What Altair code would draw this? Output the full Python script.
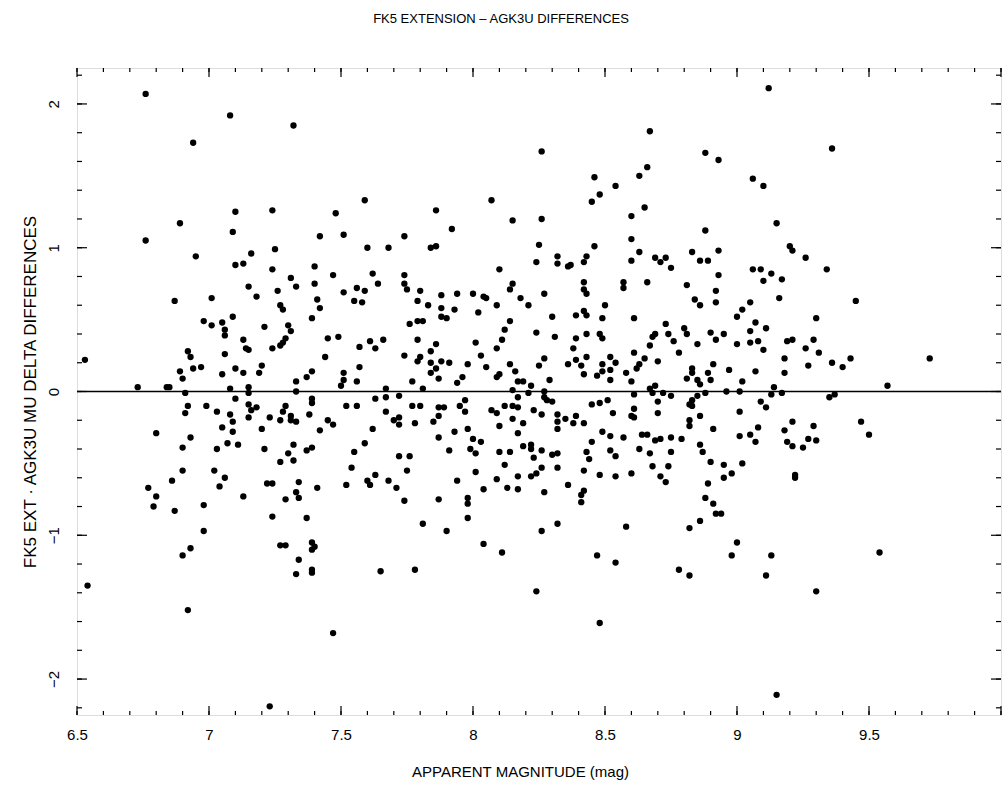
import altair as alt
import pandas as pd

# ---------------- data: (apparent magnitude, delta difference) ----------------
upper_left = [
    (6.76, 2.07), (7.08, 1.92), (6.94, 1.73), (7.10, 1.25), (6.89, 1.17), (7.09, 1.11),
    (6.76, 1.05), (6.95, 0.94), (7.16, 0.96), (7.10, 0.88), (7.13, 0.89), (7.15, 0.73),
    (7.18, 0.66), (6.87, 0.63), (7.01, 0.65), (6.98, 0.49), (7.01, 0.46), (7.05, 0.48),
    (7.09, 0.52), (7.06, 0.43), (7.06, 0.39), (7.13, 0.36), (7.14, 0.30), (7.15, 0.29),
    (6.92, 0.28), (6.93, 0.24), (7.06, 0.26), (6.89, 0.14), (6.94, 0.16), (6.97, 0.17),
    (7.10, 0.16), (7.13, 0.13), (7.05, 0.12), (6.90, 0.09), (6.53, 0.22),
]
lower_left = [
    (6.73, 0.03), (6.84, 0.03), (6.85, 0.03), (7.08, 0.02), (7.15, 0.03), (7.15, -0.01),
    (6.91, -0.01), (7.10, -0.05), (6.92, -0.10), (6.99, -0.10), (7.15, -0.09), (6.91, -0.15),
    (7.03, -0.14), (7.08, -0.16), (7.16, -0.13), (7.15, -0.18), (7.09, -0.21), (7.05, -0.25),
    (7.09, -0.28), (6.80, -0.29), (6.93, -0.32), (6.90, -0.39), (7.07, -0.36), (7.11, -0.37),
    (7.03, -0.40), (6.90, -0.55), (7.02, -0.55), (6.86, -0.62), (7.06, -0.60), (7.04, -0.66),
    (6.77, -0.67), (6.80, -0.73), (7.13, -0.73), (6.79, -0.80), (6.87, -0.83), (6.98, -0.79),
    (6.98, -0.97), (6.93, -1.09), (6.90, -1.14), (6.54, -1.35), (6.92, -1.52),
]
upper_mid_left = [
    (7.32, 1.85), (7.59, 1.33), (7.24, 1.26), (7.48, 1.24), (7.86, 1.26), (7.42, 1.08),
    (7.51, 1.09), (7.74, 1.08), (7.25, 0.99), (7.60, 1.00), (7.68, 1.00), (7.84, 1.00),
    (7.86, 1.01), (7.24, 0.85), (7.40, 0.87), (7.31, 0.79), (7.33, 0.73), (7.40, 0.75),
    (7.47, 0.81), (7.62, 0.82), (7.64, 0.75), (7.74, 0.81), (7.74, 0.75), (7.75, 0.71),
    (7.56, 0.72), (7.59, 0.70), (7.51, 0.69), (7.55, 0.63), (7.58, 0.62), (7.26, 0.70),
    (7.41, 0.64), (7.42, 0.58), (7.27, 0.60), (7.28, 0.57), (7.80, 0.70), (7.79, 0.63),
    (7.83, 0.60), (7.88, 0.67), (7.88, 0.58), (7.88, 0.52), (7.39, 0.51), (7.21, 0.45),
    (7.30, 0.46), (7.31, 0.42), (7.76, 0.47), (7.79, 0.49), (7.81, 0.49), (7.45, 0.37),
    (7.49, 0.38), (7.24, 0.30), (7.27, 0.32), (7.28, 0.34), (7.29, 0.37), (7.57, 0.31),
    (7.61, 0.35), (7.63, 0.30), (7.66, 0.36), (7.79, 0.36), (7.86, 0.33), (7.84, 0.28),
    (7.44, 0.24), (7.74, 0.25), (7.80, 0.24), (7.79, 0.21), (7.20, 0.18), (7.19, 0.13),
    (7.88, 0.21), (7.84, 0.20), (7.84, 0.13), (7.86, 0.16), (7.87, 0.09), (7.57, 0.17),
    (7.39, 0.14), (7.37, 0.10), (7.33, 0.07), (7.51, 0.13), (7.51, 0.08), (7.56, 0.07),
    (7.77, 0.07), (7.50, 0.04),
]
lower_mid_left = [
    (7.33, 0.00), (7.67, 0.02), (7.81, 0.02), (7.39, -0.05), (7.39, -0.08), (7.63, -0.05),
    (7.67, -0.04), (7.72, -0.03), (7.52, -0.10), (7.56, -0.10), (7.18, -0.11), (7.29, -0.10),
    (7.28, -0.14), (7.23, -0.18), (7.31, -0.17), (7.31, -0.20), (7.33, -0.21), (7.27, -0.20),
    (7.38, -0.16), (7.45, -0.20), (7.47, -0.23), (7.42, -0.27), (7.20, -0.26), (7.62, -0.26),
    (7.67, -0.14), (7.70, -0.20), (7.72, -0.18), (7.72, -0.23), (7.77, -0.10), (7.80, -0.10),
    (7.78, -0.22), (7.85, -0.21), (7.87, -0.17), (7.87, -0.11), (7.87, -0.32), (7.21, -0.40),
    (7.32, -0.37), (7.30, -0.43), (7.37, -0.41), (7.39, -0.39), (7.27, -0.49), (7.32, -0.48),
    (7.55, -0.42), (7.59, -0.36), (7.54, -0.53), (7.72, -0.45), (7.76, -0.45), (7.75, -0.55),
    (7.22, -0.64), (7.24, -0.64), (7.34, -0.63), (7.41, -0.67), (7.52, -0.65), (7.60, -0.62),
    (7.61, -0.65), (7.63, -0.58), (7.68, -0.62), (7.71, -0.67), (7.33, -0.70), (7.34, -0.74),
    (7.29, -0.75), (7.74, -0.76), (7.87, -0.75), (7.24, -0.87), (7.37, -0.88), (7.81, -0.92),
    (7.27, -1.07), (7.29, -1.07), (7.39, -1.05), (7.40, -1.08), (7.39, -1.10), (7.34, -1.17),
    (7.33, -1.27), (7.39, -1.24), (7.39, -1.26), (7.65, -1.25), (7.78, -1.24), (7.47, -1.68),
    (7.23, -2.19),
]
upper_mid = [
    (8.26, 1.67), (8.46, 1.49), (8.54, 1.43), (8.48, 1.37), (8.45, 1.32), (8.07, 1.33),
    (8.15, 1.19), (8.26, 1.20), (7.92, 1.13), (8.25, 1.02), (8.46, 1.01), (8.24, 0.90),
    (8.32, 0.94), (8.32, 0.89), (8.36, 0.87), (8.37, 0.88), (8.42, 0.90), (8.43, 0.94),
    (8.10, 0.85), (8.15, 0.75), (8.14, 0.71), (8.18, 0.65), (8.21, 0.60), (8.27, 0.68),
    (7.94, 0.68), (8.00, 0.68), (8.04, 0.66), (8.05, 0.65), (8.09, 0.60), (7.93, 0.57),
    (7.90, 0.51), (8.02, 0.55), (8.42, 0.76), (8.42, 0.71), (8.43, 0.68), (8.57, 0.76),
    (8.57, 0.72), (8.50, 0.60), (8.42, 0.56), (8.43, 0.53), (8.39, 0.53), (8.49, 0.51),
    (8.30, 0.52), (8.14, 0.49), (8.12, 0.43), (8.24, 0.41), (8.01, 0.34), (8.11, 0.36),
    (8.09, 0.30), (8.31, 0.38), (8.39, 0.37), (8.43, 0.40), (8.48, 0.40), (8.49, 0.37),
    (8.38, 0.30), (8.03, 0.25), (7.91, 0.20), (7.98, 0.19), (8.05, 0.17), (8.14, 0.19),
    (8.16, 0.14), (8.27, 0.23), (8.25, 0.18), (8.36, 0.19), (8.39, 0.22), (8.41, 0.18),
    (8.43, 0.24), (8.52, 0.24), (8.49, 0.19), (8.54, 0.20), (8.52, 0.15), (8.49, 0.14),
    (8.47, 0.11), (8.42, 0.12), (8.10, 0.12), (8.09, 0.10), (7.96, 0.10), (7.94, 0.06),
    (8.17, 0.07), (8.19, 0.07), (8.22, 0.04), (8.29, 0.08), (8.52, 0.08),
]
lower_mid = [
    (8.15, 0.01), (8.21, -0.01), (8.27, 0.00), (8.17, -0.04), (8.27, -0.04), (8.28, -0.06),
    (8.30, -0.07), (7.89, -0.11), (7.95, -0.10), (7.97, -0.06), (7.97, -0.14), (8.07, -0.13),
    (8.09, -0.15), (8.12, -0.10), (8.15, -0.10), (8.17, -0.11), (8.23, -0.13), (8.26, -0.16),
    (8.32, -0.16), (8.15, -0.19), (8.19, -0.22), (8.10, -0.24), (8.32, -0.21), (8.35, -0.19),
    (8.38, -0.22), (8.39, -0.17), (8.42, -0.22), (8.45, -0.09), (8.48, -0.08), (8.51, -0.06),
    (8.53, -0.15), (8.32, -0.26), (8.17, -0.29), (7.93, -0.28), (7.98, -0.26), (8.00, -0.33),
    (8.03, -0.35), (7.91, -0.41), (7.99, -0.40), (8.01, -0.43), (8.10, -0.42), (8.14, -0.42),
    (8.19, -0.38), (8.22, -0.37), (8.22, -0.40), (8.26, -0.41), (8.23, -0.46), (8.30, -0.44),
    (8.32, -0.43), (8.12, -0.51), (8.26, -0.53), (8.32, -0.53), (8.01, -0.56), (7.94, -0.62),
    (8.09, -0.61), (8.17, -0.59), (8.22, -0.59), (8.24, -0.57), (8.04, -0.68), (8.13, -0.67),
    (8.17, -0.68), (8.27, -0.70), (8.36, -0.65), (8.42, -0.55), (8.44, -0.47), (8.43, -0.42),
    (8.45, -0.35), (8.49, -0.28), (8.52, -0.31), (8.57, -0.32), (8.52, -0.41), (8.54, -0.45),
    (8.48, -0.58), (8.54, -0.59), (8.42, -0.69), (8.41, -0.72), (8.41, -0.77), (7.98, -0.74),
    (7.98, -0.78), (7.98, -0.88), (7.90, -0.97), (8.26, -0.97), (8.32, -0.92), (8.58, -0.94),
    (8.04, -1.06), (8.11, -1.12), (8.47, -1.14), (8.54, -1.19), (8.24, -1.39), (8.48, -1.61),
]
upper_mid_right = [
    (9.12, 2.11), (8.67, 1.81), (8.88, 1.66), (8.93, 1.61), (8.66, 1.56), (8.63, 1.50),
    (9.06, 1.48), (9.10, 1.43), (8.65, 1.28), (8.60, 1.22), (9.15, 1.17), (8.88, 1.12),
    (8.60, 1.06), (8.60, 0.91), (8.63, 0.97), (8.69, 0.93), (8.71, 0.90), (8.73, 0.93),
    (8.75, 0.86), (8.83, 0.97), (8.86, 0.91), (8.89, 0.91), (8.93, 0.98), (9.20, 1.01),
    (9.21, 0.98), (9.26, 0.93), (8.66, 0.76), (8.81, 0.74), (8.93, 0.81), (8.92, 0.70),
    (8.92, 0.62), (8.84, 0.64), (8.86, 0.60), (9.06, 0.85), (9.09, 0.85), (9.10, 0.77),
    (9.13, 0.82), (9.17, 0.78), (9.16, 0.65), (9.05, 0.62), (9.02, 0.57), (9.00, 0.52),
    (8.61, 0.51), (8.73, 0.47), (8.69, 0.40), (8.68, 0.38), (8.74, 0.40), (8.80, 0.44),
    (8.81, 0.40), (8.76, 0.35), (8.67, 0.32), (8.78, 0.27), (8.90, 0.41), (8.92, 0.36),
    (8.95, 0.40), (8.85, 0.33), (9.00, 0.33), (9.05, 0.42), (9.07, 0.48), (9.11, 0.44),
    (9.05, 0.34), (9.08, 0.35), (9.10, 0.29), (9.19, 0.35), (9.21, 0.36), (9.26, 0.30),
    (8.61, 0.27), (8.63, 0.19), (8.65, 0.23), (8.62, 0.16), (8.70, 0.21), (8.60, 0.07),
    (8.58, 0.13), (8.81, 0.09), (8.83, 0.16), (8.83, 0.13), (8.85, 0.08), (8.86, 0.05),
    (8.89, 0.13), (8.90, 0.08), (8.91, 0.19), (8.97, 0.15), (9.02, 0.07), (9.07, 0.14),
    (9.18, 0.23), (9.18, 0.13), (9.27, 0.18), (8.69, 0.04), (9.14, 0.03), (8.67, 0.02),
]
lower_mid_right = [
    (8.61, -0.02), (8.68, -0.01), (8.72, -0.01), (8.75, -0.03), (8.85, -0.03), (8.88, -0.01),
    (8.96, 0.00), (9.01, 0.00), (9.13, -0.02), (9.17, -0.01), (8.70, -0.07), (8.83, -0.06),
    (8.82, -0.09), (8.83, -0.10), (8.61, -0.12), (8.60, -0.17), (8.61, -0.18), (8.70, -0.15),
    (8.86, -0.17), (8.82, -0.20), (8.82, -0.24), (9.01, -0.14), (9.09, -0.07), (9.11, -0.11),
    (8.91, -0.26), (9.08, -0.25), (9.21, -0.21), (9.18, -0.27), (9.29, -0.24), (8.64, -0.30),
    (8.66, -0.30), (8.69, -0.34), (8.71, -0.33), (8.75, -0.32), (8.79, -0.33), (8.63, -0.40),
    (8.67, -0.43), (8.75, -0.42), (8.86, -0.37), (8.87, -0.42), (9.01, -0.31), (9.05, -0.30),
    (9.07, -0.35), (9.19, -0.35), (9.21, -0.38), (9.25, -0.39), (9.27, -0.33), (9.30, -0.34),
    (8.60, -0.57), (8.68, -0.52), (8.74, -0.52), (8.71, -0.59), (8.73, -0.63), (8.90, -0.49),
    (8.95, -0.51), (9.02, -0.50), (8.98, -0.57), (8.95, -0.60), (8.89, -0.64), (9.22, -0.58),
    (9.22, -0.60), (8.88, -0.74), (8.91, -0.78), (8.92, -0.85), (8.94, -0.85), (8.86, -0.90),
    (8.82, -0.95), (9.00, -1.05), (8.98, -1.14), (9.13, -1.14), (8.78, -1.24), (8.82, -1.28),
    (9.11, -1.28), (9.15, -2.11),
]
upper_right = [
    (9.36, 1.69), (9.34, 0.85), (9.45, 0.63), (9.30, 0.51), (9.29, 0.36), (9.31, 0.27),
    (9.36, 0.20), (9.40, 0.17), (9.43, 0.23), (9.73, 0.23), (9.57, 0.04),
]
lower_right = [
    (9.35, -0.04), (9.37, -0.02), (9.47, -0.21), (9.50, -0.30), (9.54, -1.12), (9.30, -1.39),
]

x_label_values = [6.5, 7, 7.5, 8, 8.5, 9, 9.5]
y_label_values = [-2, -1, 0, 1, 2]
x_major_ticks = [6.5, 7.0, 7.5, 8.0, 8.5, 9.0, 9.5, 10.0]
x_minor_ticks = [round(6.5 + 0.1 * i, 1) for i in range(36)]
y_major_ticks = [-2, -1, 0, 1, 2]
y_minor_ticks = [round(-2.2 + 0.2 * i, 1) for i in range(23)]

TITLE = "FK5 EXTENSION  \u2013  AGK3U DIFFERENCES"
X_TITLE = "APPARENT MAGNITUDE (mag)"
Y_TITLE = "FK5 EXT  \u00b7  AGK3U MU DELTA DIFFERENCES"

# ---------------- chart ----------------
W, H = 924, 647
FONT = "Liberation Sans"

rows = (upper_left + lower_left + upper_mid_left + lower_mid_left + upper_mid + lower_mid
        + upper_mid_right + lower_mid_right + upper_right + lower_right)
df = pd.DataFrame(rows, columns=["mag", "delta"])

xs = alt.Scale(domain=[6.5, 10.0], nice=False, zero=False)
ys = alt.Scale(domain=[-2.25, 2.25], nice=False, zero=False)

x_axis = alt.Axis(
    values=x_label_values, format="~g", title=X_TITLE, ticks=False, domain=False,
    grid=False, labelFont=FONT, labelFontSize=15, labelColor="black", labelPadding=12,
    labelFlush=False,
    titleFont=FONT, titleFontSize=15, titleFontWeight="normal", titleColor="black",
    titlePadding=22, titleX=443)
y_axis = alt.Axis(
    values=y_label_values, format="d", title=Y_TITLE, ticks=False, domain=False,
    grid=False, labelFont=FONT, labelFontSize=15, labelColor="black", labelAngle=270,
    labelAlign="center", labelBaseline="bottom", labelPadding=16, labelFlush=False,
    titleFont=FONT, titleFontSize=17, titleFontWeight="normal", titleColor="black",
    titlePadding=7)

points = alt.Chart(df).mark_circle(size=40, color="black", opacity=1).encode(
    x=alt.X("mag:Q", scale=xs, axis=x_axis, title=X_TITLE),
    y=alt.Y("delta:Q", scale=ys, axis=y_axis, title=Y_TITLE),
)

zero_line = alt.Chart(pd.DataFrame({"z": [0]})).mark_rule(color="black", strokeWidth=1.6).encode(
    y=alt.Y("z:Q", scale=ys, axis=y_axis, title=Y_TITLE))


def ticks(vals, side, length):
    d = pd.DataFrame({"v": vals})
    if side in ("bottom", "top"):
        enc = dict(x=alt.X("v:Q", scale=xs, axis=x_axis, title=X_TITLE))
        if side == "bottom":
            enc.update(y=alt.value(H), y2=alt.value(H - length))
        else:
            enc.update(y=alt.value(0), y2=alt.value(length))
    else:
        enc = dict(y=alt.Y("v:Q", scale=ys, axis=y_axis, title=Y_TITLE))
        if side == "left":
            enc.update(x=alt.value(0), x2=alt.value(length))
        else:
            enc.update(x=alt.value(W), x2=alt.value(W - length))
    return alt.Chart(d).mark_rule(color="black", strokeWidth=1.2).encode(**enc)


tick_layers = [
    ticks(x_major_ticks, "bottom", 9), ticks(x_minor_ticks, "bottom", 4),
    ticks(x_major_ticks, "top", 9), ticks(x_minor_ticks, "top", 4),
    ticks(y_major_ticks, "left", 10), ticks(y_minor_ticks, "left", 5),
    ticks(y_major_ticks, "right", 10), ticks(y_minor_ticks, "right", 5),
]

chart = alt.layer(points, zero_line, *tick_layers).properties(
    width=W, height=H,
    autosize=alt.AutoSizeParams(type="none"),
    padding={"left": 77, "top": 68, "right": 7, "bottom": 73},
    title=alt.TitleParams(TITLE, font=FONT, fontSize=13, fontWeight="normal", color="black",
                          anchor="middle", offset=41, dx=-38),
).configure_view(stroke="#000000", strokeWidth=1.5, strokeOpacity=1).configure(background="white")

chart.save("out.html", embed_options={"renderer": "svg", "actions": False})
